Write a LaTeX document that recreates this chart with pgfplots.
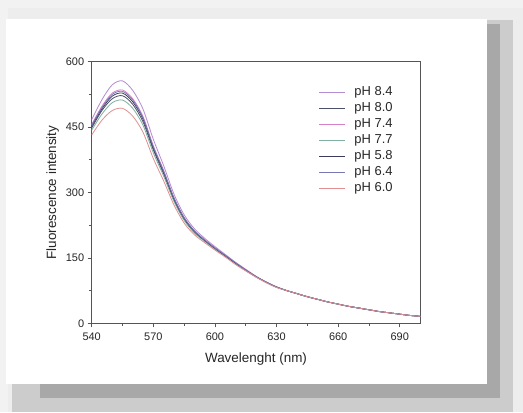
\documentclass[border=0pt]{standalone}
\usepackage{pgfplots}
\pgfplotsset{compat=1.18}
\usepackage{fontspec}
\setmainfont{Liberation Sans}
\definecolor{c84}{HTML}{B48CD0}
\definecolor{c80}{HTML}{4A5068}
\definecolor{c74}{HTML}{D680C8}
\definecolor{c77}{HTML}{80B0A0}
\definecolor{c58}{HTML}{3C3C5C}
\definecolor{c64}{HTML}{7878B4}
\definecolor{c60}{HTML}{E09090}
\definecolor{axgray}{HTML}{555555}
\begin{document}
\begin{tikzpicture}[x=1bp,y=1bp]
\useasboundingbox (0,0) rectangle (523,412);
\fill[black!5] (0,0) rectangle (523,412);
\fill[black!7] (8,0) rectangle (523,404);
\fill[black!20] (12,0) rectangle (513,392);
\fill[black!34] (40,14) rectangle (500,388);
\fill[white] (6,28) rectangle (487,393);
\begin{axis}[
  at={(91.7bp,88.7bp)}, anchor=south west,
  scale only axis, width=328.6bp, height=261.6bp,
  xmin=540, xmax=700, ymin=0, ymax=600,
  xtick={540,570,...,690}, ytick={0,150,...,600},
  minor x tick num=1, minor y tick num=1,
  xtick pos=bottom, ytick pos=left,
  tick align=outside,
  major tick length=4bp, minor tick length=2.5bp,
  axis line style={draw=axgray, line width=0.9bp},
  every tick/.style={draw=axgray, line width=0.8bp},
  /pgf/number format/assume math mode=true,
  ticklabel style={font=\fontsize{11}{13}\selectfont, text=black!85},
  xticklabel style={yshift=-2bp},
  label style={font=\fontsize{13.5}{16}\selectfont, text=black!85},
  xlabel={Wavelenght (nm)},
  ylabel={Fluorescence intensity},
  xlabel style={at={(axis description cs:0.5,0)}, anchor=center, yshift=-36bp},
  ylabel style={at={(axis description cs:0,0.5)}, anchor=center, yshift=39bp},
  legend style={at={(axis description cs:0.69,0.912)}, anchor=north west, draw=none, fill=none,
    font=\fontsize{13}{15.5}\selectfont, inner sep=0pt, row sep=1.5bp, text=black!85},
  legend cell align=left,
  legend image code/.code={\draw[#1, line width=0.8bp] (0bp,0bp) -- (26bp,0bp); \path (33bp,0bp);},
  every axis plot/.append style={line width=0.8bp, smooth},
]
\addplot[c84] coordinates {(540,467)(545,513)(550,547)(555,556)(560,534)(565,491)(570,422)(575,362)(580,297)(585,249)(590,217)(595,195)(600,176)(605,158)(610,140)(615,124)(620,108)(625,95)(630,84)(635,75)(640,68)(645,61)(650,55)(655,49)(660,44)(665,39)(670,35)(675,31)(680,27)(685,24)(690,21)(695,18)(700,16)};
\addlegendentry{pH 8.4}
\addplot[c80] coordinates {(540,448)(545,488)(550,515)(555,522)(560,502)(565,462)(570,398)(575,343)(580,284)(585,239)(590,209)(595,189)(600,172)(605,155)(610,138)(615,122)(620,107)(625,94)(630,83)(635,75)(640,68)(645,61)(650,55)(655,49)(660,44)(665,39)(670,35)(675,31)(680,27)(685,24)(690,21)(695,18)(700,16)};
\addlegendentry{pH 8.0}
\addplot[c74] coordinates {(540,456)(545,498)(550,528)(555,535)(560,515)(565,474)(570,407)(575,351)(580,289)(585,243)(590,212)(595,192)(600,173)(605,156)(610,139)(615,123)(620,107)(625,94)(630,83)(635,75)(640,68)(645,61)(650,55)(655,49)(660,44)(665,39)(670,35)(675,31)(680,27)(685,24)(690,21)(695,18)(700,16)};
\addlegendentry{pH 7.4}
\addplot[c77] coordinates {(540,443)(545,480)(550,506)(555,512)(560,493)(565,454)(570,391)(575,338)(580,280)(585,236)(590,207)(595,188)(600,170)(605,154)(610,137)(615,121)(620,106)(625,94)(630,83)(635,75)(640,68)(645,61)(650,55)(655,49)(660,44)(665,39)(670,35)(675,31)(680,27)(685,24)(690,21)(695,18)(700,16)};
\addlegendentry{pH 7.7}
\addplot[c58] coordinates {(540,452)(545,492)(550,521)(555,528)(560,508)(565,468)(570,402)(575,347)(580,286)(585,241)(590,211)(595,190)(600,172)(605,155)(610,138)(615,122)(620,107)(625,94)(630,83)(635,75)(640,68)(645,61)(650,55)(655,49)(660,44)(665,39)(670,35)(675,31)(680,27)(685,24)(690,21)(695,18)(700,16)};
\addlegendentry{pH 5.8}
\addplot[c64] coordinates {(540,454)(545,495)(550,525)(555,532)(560,512)(565,471)(570,405)(575,349)(580,288)(585,242)(590,212)(595,191)(600,173)(605,156)(610,139)(615,122)(620,107)(625,94)(630,83)(635,75)(640,68)(645,61)(650,55)(655,49)(660,44)(665,39)(670,35)(675,31)(680,27)(685,24)(690,21)(695,18)(700,16)};
\addlegendentry{pH 6.4}
\addplot[c60] coordinates {(540,432)(545,466)(550,488)(555,493)(560,475)(565,438)(570,378)(575,327)(580,272)(585,230)(590,203)(595,185)(600,168)(605,152)(610,135)(615,120)(620,106)(625,93)(630,82)(635,75)(640,68)(645,61)(650,55)(655,49)(660,44)(665,39)(670,35)(675,31)(680,27)(685,24)(690,21)(695,18)(700,16)};
\addlegendentry{pH 6.0}
\end{axis}
\end{tikzpicture}
\end{document}
